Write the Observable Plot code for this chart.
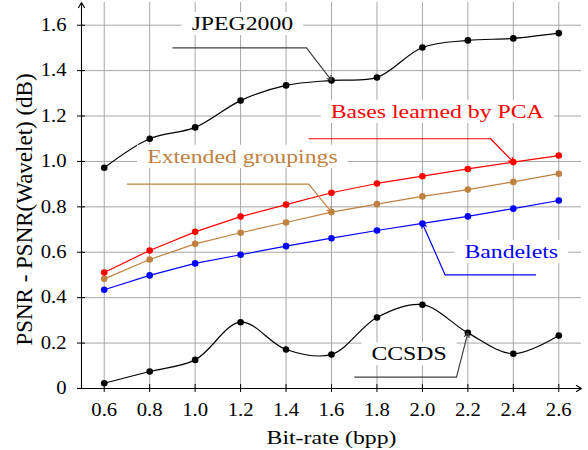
<!DOCTYPE html>
<html><head><meta charset="utf-8">
<script src="https://cdn.jsdelivr.net/npm/d3@7"></script>
<script src="https://cdn.jsdelivr.net/npm/@observablehq/plot@0.6"></script>
<style>body{margin:0;background:#fff}svg{display:block}
svg, svg text { font-family: "Liberation Serif", serif !important; font-weight: normal; }</style>
</head><body><div id="chart"></div>
<script>
// ---- data ----
const bitrate   = [0.6, 0.8, 1.0, 1.2, 1.4, 1.6, 1.8, 2.0, 2.2, 2.4, 2.6];
const jpeg2000  = [0.972, 1.100, 1.150, 1.268, 1.335, 1.357, 1.370, 1.502, 1.533, 1.542, 1.565];
const pca       = [0.511, 0.608, 0.690, 0.757, 0.810, 0.862, 0.903, 0.935, 0.967, 0.997, 1.026];
const extended  = [0.483, 0.568, 0.637, 0.686, 0.731, 0.777, 0.812, 0.846, 0.876, 0.910, 0.946];
const bandelets = [0.435, 0.498, 0.551, 0.589, 0.627, 0.662, 0.696, 0.727, 0.758, 0.792, 0.828];
const ccsds     = [0.023, 0.075, 0.126, 0.292, 0.172, 0.150, 0.313, 0.369, 0.245, 0.153, 0.233];

const seriesNames  = ["JPEG2000", "Extended groupings", "Bases learned by PCA", "Bandelets", "CCSDS"];
const seriesValues = [jpeg2000, extended, pca, bandelets, ccsds];
const seriesColors = ["black", "#bf8040", "red", "blue", "black"];
const seriesCurves = ["catmull-rom", "linear", "linear", "linear", "catmull-rom"];

const xTicks = [0.6, 0.8, 1.0, 1.2, 1.4, 1.6, 1.8, 2.0, 2.2, 2.4, 2.6];
const xTickLabels = ["0.6", "0.8", "1.0", "1.2", "1.4", "1.6", "1.8", "2.0", "2.2", "2.4", "2.6"];
const yTicks = [0, 0.2, 0.4, 0.6, 0.8, 1.0, 1.2, 1.4, 1.6];
const yTickLabels = ["0", "0.2", "0.4", "0.6", "0.8", "1.0", "1.2", "1.4", "1.6"];
const xDomain = [0.5, 2.7];
const yDomain = [0, 1.7];
const xTitle = "Bit-rate (bpp)";
const yTitle = "PSNR - PSNR(Wavelet) (dB)";

// pin annotations (data units)
const pinTextX   = [1.208, 1.208, 2.065, 2.391, 1.941];
const pinTextY   = [1.607, 1.022, 1.220, 0.603, 0.153];
const pinStartX  = [0.9, 0.7, 1.5, 2.5, 1.7];
const pinElbowX  = [1.49, 1.5, 2.3, 2.1, 2.15];
const pinLineY   = [1.5, 0.9, 1.1, 0.5, 0.05];
const pinTargetI = [5, 5, 9, 7, 8];
const pinColors  = ["#404040", "#bf8040", "red", "blue", "#404040"];

// ---- build ----
const rows = seriesNames.flatMap((s, k) => bitrate.map((b, i) => ({s, k, x: b, y: seriesValues[k][i]})));
const pins = seriesNames.map((s, k) => ({
  k, label: s, tx: pinTextX[k], ty: pinTextY[k],
  x0: pinStartX[k], xe: pinElbowX[k], yl: pinLineY[k],
  xt: bitrate[pinTargetI[k]], yt: seriesValues[k][pinTargetI[k]]
}));

const marks = [
  Plot.ruleX(xTicks, {stroke: "#a6a6a6", strokeWidth: 1}),
  Plot.ruleY(yTicks.filter(v => v > 0), {stroke: "#a6a6a6", strokeWidth: 1}),
  Plot.ruleX(xTicks, {y1: () => 0, y2: () => 0, insetTop: -4, insetBottom: -4, stroke: "black"}),
  Plot.ruleY(yTicks, {x1: () => xDomain[0], x2: () => xDomain[0], insetLeft: -4, insetRight: -4, stroke: "black"}),
  Plot.axisX({ticks: xTicks, tickFormat: d => xTickLabels[xTicks.indexOf(d)], tickSize: 0, tickPadding: 15, label: null, fontSize: 18}),
  Plot.axisY({ticks: yTicks, tickFormat: d => yTickLabels[yTicks.indexOf(d)], tickSize: 0, tickPadding: 15, label: null, fontSize: 18}),
  Plot.arrow([{x1: xDomain[0], y1: 0, x2: xDomain[1], y2: 0}], {x1: "x1", y1: "y1", x2: "x2", y2: "y2", stroke: "black", strokeWidth: 1.1, headLength: 8, headAngle: 60}),
  Plot.arrow([{x1: xDomain[0], y1: 0, x2: xDomain[0], y2: yDomain[1]}], {x1: "x1", y1: "y1", x2: "x2", y2: "y2", stroke: "black", strokeWidth: 1.1, headLength: 8, headAngle: 60}),
];
seriesNames.forEach((s, k) => {
  const d = rows.filter(r => r.k === k);
  marks.push(Plot.line(d, {x: "x", y: "y", stroke: seriesColors[k], strokeWidth: 1.2, curve: seriesCurves[k]}));
  marks.push(Plot.dot(d, {x: "x", y: "y", fill: seriesColors[k], r: 3.3}));
});
pins.forEach(p => {
  marks.push(Plot.link([p], {x1: "x0", y1: "yl", x2: "xe", y2: "yl", stroke: pinColors[p.k], strokeWidth: 1.2}));
  marks.push(Plot.arrow([p], {x1: "xe", y1: "yl", x2: "xt", y2: "yt", stroke: pinColors[p.k], strokeWidth: 1.2, headLength: 6, headAngle: 60}));
  marks.push(Plot.text([p], {x: "tx", y: "ty", text: "label", fill: seriesColors[p.k], fontSize: 19, lineAnchor: "middle", className: "pinlabel"}));
});
marks.push(Plot.text([yTitle], {text: d => d, frameAnchor: "left", rotate: -90, dx: -57, dy: 14, fontSize: 23, textAnchor: "middle", lineAnchor: "middle", className: "ytitle"}));
marks.push(Plot.text([xTitle], {text: d => d, frameAnchor: "bottom", dy: 49, fontSize: 19, textAnchor: "middle", lineAnchor: "middle", className: "xtitle"}));

const chart = Plot.plot({
  width: 588, height: 450,
  marginLeft: 81, marginRight: 7, marginTop: 2, marginBottom: 62,
  x: {domain: xDomain},
  y: {domain: yDomain},
  style: {fontFamily: "'Liberation Serif', serif", fontSize: "18px", background: "white", color: "black"},
  marks
});
document.getElementById("chart").appendChild(chart);

// horizontal stretch of the glyphs (the reference type is wide)
function stretch(sel, sx) {
  chart.querySelectorAll(sel).forEach(t => {
    const tr = t.getAttribute("transform") || "";
    t.setAttribute("transform", (tr + ` scale(${sx},1)`).trim());
    t.dataset.sx = sx;
  });
}
stretch('g[aria-label="x-axis tick label"] text', 1.15);
stretch('g[aria-label="y-axis tick label"] text', 1.15);
stretch("g.pinlabel text", 1.25);
stretch("g.xtitle text", 1.25);

// white boxes behind the pin labels
chart.querySelectorAll("g.pinlabel text").forEach(t => {
  const b = t.getBBox();
  const sx = +t.dataset.sx || 1;
  const pad = 10 / sx;
  const r = document.createElementNS("http://www.w3.org/2000/svg", "rect");
  r.setAttribute("x", b.x - pad);
  r.setAttribute("y", b.y - 1);
  r.setAttribute("width", b.width + 2 * pad);
  r.setAttribute("height", b.height + 2);
  r.setAttribute("fill", "white");
  r.setAttribute("stroke", "none");
  const tr = t.getAttribute("transform");
  if (tr) r.setAttribute("transform", tr);
  t.parentNode.insertBefore(r, t);
});
</script>
</body></html>
